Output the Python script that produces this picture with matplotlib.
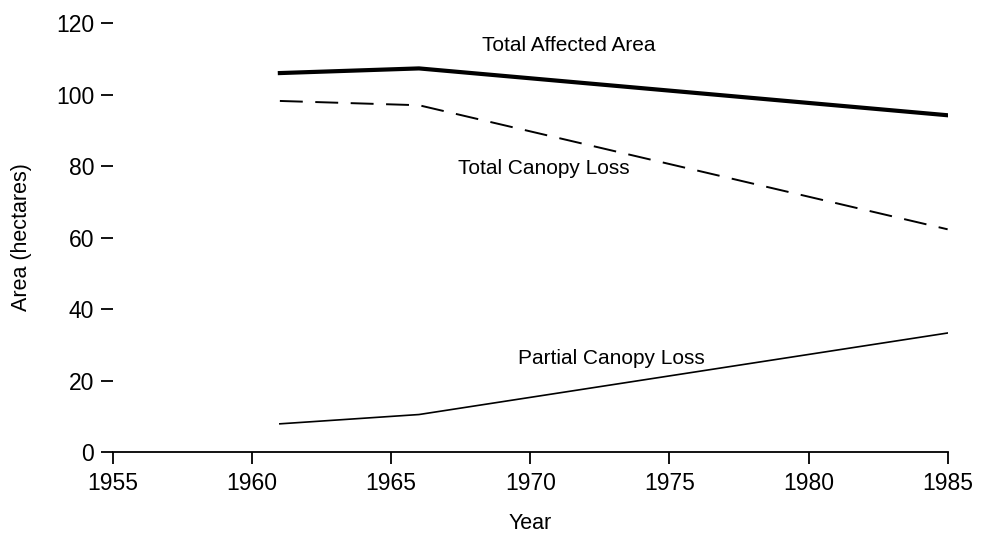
import matplotlib
matplotlib.use("Agg")
import matplotlib.pyplot as plt

plt.rcParams['font.family'] = ['Liberation Sans', 'DejaVu Sans']
plt.rcParams['lines.scale_dashes'] = False

# data
years = [1961, 1966, 1985]
total_affected = [106, 107.3, 94.2]
total_canopy_loss = [98.2, 97.0, 62.3]
partial_canopy_loss = [7.9, 10.5, 33.3]

x_ticks = [1955, 1960, 1965, 1970, 1975, 1980, 1985]
y_ticks = [0, 20, 40, 60, 80, 100, 120]

fig = plt.figure(figsize=(9.82, 5.35), dpi=100)
ax = fig.add_axes([0.115, 0.155, 0.85, 0.802])

ax.plot(years, total_affected, color='black', lw=3.0, solid_joinstyle='round')
ax.plot(years, total_canopy_loss, color='black', lw=1.4, dashes=(16.5, 9))
ax.plot(years, partial_canopy_loss, color='black', lw=1.2)

# line labels
ax.text(1971.4, 113.6, "Total Affected Area", fontsize=15, ha='center', va='center')
ax.text(1970.5, 79.3, "Total Canopy Loss", fontsize=15, ha='center', va='center')
ax.text(1972.9, 26.3, "Partial Canopy Loss", fontsize=15, ha='center', va='center')

ax.set_xlim(1955, 1985)
ax.set_ylim(0, 120)
ax.set_xticks(x_ticks)
ax.set_yticks(y_ticks)

for s in ['top', 'right', 'left']:
    ax.spines[s].set_visible(False)
ax.spines['bottom'].set_linewidth(1.3)

ax.tick_params(axis='x', direction='out', length=8.5, width=1.3, pad=6, labelsize=16.5)
ax.tick_params(axis='y', direction='out', length=8.5, width=1.3, pad=5, labelsize=16.5)

ax.set_xlabel("Year", fontsize=15.5, labelpad=13)
ax.set_ylabel("Area (hectares)", fontsize=15.5, labelpad=17)

fig.savefig("out.png", dpi=100)
